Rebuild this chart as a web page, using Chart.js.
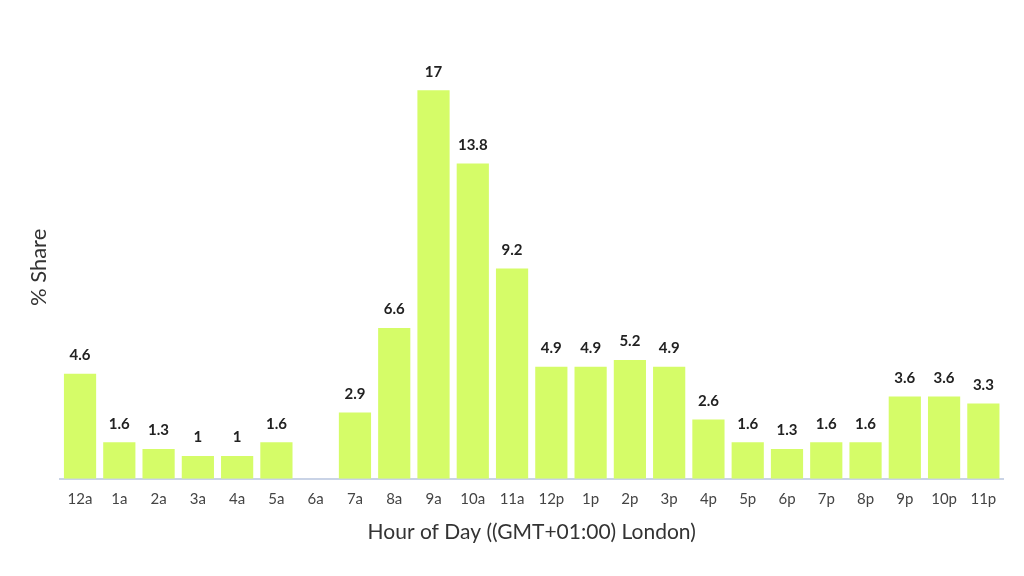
<!DOCTYPE html>
<html>
<head>
<meta charset="utf-8">
<script src="https://cdn.jsdelivr.net/npm/chart.js@4"></script>
<style>
    html, body { margin: 0; padding: 0; background: #fff; }
    #wrap { width: 1024px; height: 576px; }
</style>
</head>
<body>
<div id="wrap"><canvas id="hourChart"></canvas></div>
<script>
const hours = ['12a', '1a', '2a', '3a', '4a', '5a', '6a', '7a', '8a', '9a', '10a', '11a',
    '12p', '1p', '2p', '3p', '4p', '5p', '6p', '7p', '8p', '9p', '10p', '11p'];
const share = [4.6, 1.6, 1.3, 1, 1, 1.6, 0, 2.9, 6.6, 17, 13.8, 9.2,
    4.9, 4.9, 5.2, 4.9, 2.6, 1.6, 1.3, 1.6, 1.6, 3.6, 3.6, 3.3];

const fontFamily = 'Lato, "Open Sans", sans-serif';

// draw value labels above each bar
const barLabels = {
    id: 'barLabels',
    afterDatasetsDraw(chart) {
        const ctx = chart.ctx;
        const meta = chart.getDatasetMeta(0);
        ctx.save();
        ctx.font = 'bold 15px ' + fontFamily;
        ctx.fillStyle = '#222';
        ctx.textAlign = 'center';
        ctx.textBaseline = 'bottom';
        meta.data.forEach((bar, i) => {
            if (!share[i]) return;
            ctx.fillText(String(share[i]), bar.x, bar.y - 11);
        });
        ctx.restore();
    }
};

new Chart(document.getElementById('hourChart'), {
    type: 'bar',
    data: {
        labels: hours,
        datasets: [{
            data: share,
            backgroundColor: '#d5fc68',
            borderWidth: 0,
            categoryPercentage: 0.82,
            barPercentage: 1
        }]
    },
    options: {
        responsive: true,
        maintainAspectRatio: false,
        animation: false,
        layout: { padding: { left: 22, right: 21, top: 56, bottom: 27 } },
        plugins: {
            legend: { display: false },
            tooltip: { enabled: false }
        },
        scales: {
            x: {
                grid: { display: false },
                border: { display: true, color: '#c9d3e6', width: 2 },
                ticks: { color: '#444', font: { family: fontFamily, size: 15 }, padding: 3 },
                title: {
                    display: true,
                    text: 'Hour of Day ((GMT+01:00) London)',
                    color: '#333',
                    font: { family: fontFamily, size: 21 },
                    padding: { top: 9 }
                }
            },
            y: {
                min: 0,
                max: 18.5,
                grid: { display: false },
                border: { display: false },
                ticks: { display: false },
                title: {
                    display: true,
                    text: '% Share',
                    color: '#333',
                    font: { family: fontFamily, size: 22 },
                    padding: { bottom: 0 }
                }
            }
        }
    },
    plugins: [barLabels]
});
</script>
</body>
</html>
